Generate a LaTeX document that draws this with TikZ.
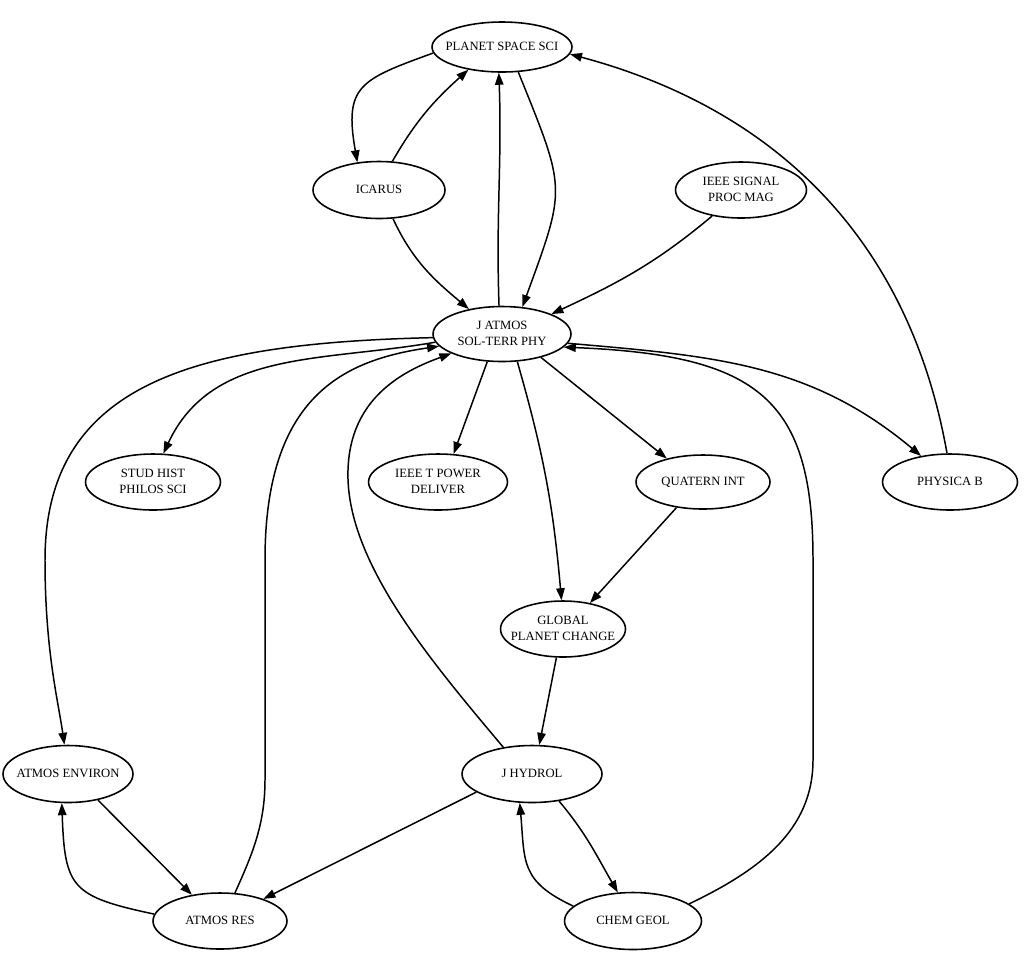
\documentclass[tikz,border=0pt]{standalone}
\usepackage{fontspec}
\setmainfont{Liberation Serif}
\usepackage{tikz}
\usetikzlibrary{shapes.geometric}
\usetikzlibrary{arrows.meta}
\tikzset{journal/.style={ellipse, draw=black, line width=0.9pt, inner sep=0pt, minimum width=2.7cm, minimum height=1.12cm, font=\fontsize{7.2}{9.1}\selectfont}}
\tikzset{cite/.style={line width=0.85pt, -{Triangle[length=0.24cm, width=0.17cm]}}}
\newcommand{\jname}[1]{\makebox[0pt]{\begin{tabular}{@{}c@{}}#1\end{tabular}}}

\begin{document}
\begin{tikzpicture}[x=0.02cm, y=-0.02cm]
    \useasboundingbox (0,0) rectangle (1024,965);
    \node [journal, minimum width=2.8cm, minimum height=1cm](planet) at (502,47){\jname{PLANET SPACE SCI}};
    \node [journal, minimum width=2.64cm, minimum height=1.14cm](icarus) at (379,190){\jname{ICARUS}};
    \node [journal, minimum width=2.62cm](signal) at (741,190){\jname{IEEE SIGNAL\\PROC MAG}};
    \node [journal, minimum width=2.76cm, minimum height=1.1cm](jatmos) at (502,334){\jname{J ATMOS\\SOL-TERR PHY}};
    \node [journal](stud) at (153,482){\jname{STUD HIST\\PHILOS SCI}};
    \node [journal, minimum width=2.78cm](power) at (438,482){\jname{IEEE T POWER\\DELIVER}};
    \node [journal, minimum width=2.68cm, minimum height=1.08cm](quatern) at (703,482){\jname{QUATERN INT}};
    \node [journal](physica) at (950,482){\jname{PHYSICA B}};
    \node [journal, minimum width=2.5cm](global) at (563,629){\jname{GLOBAL\\PLANET CHANGE}};
    \node [journal, minimum width=2.6cm, minimum height=1.14cm](environ) at (68,774){\jname{ATMOS ENVIRON}};
    \node [journal, minimum width=2.8cm, minimum height=1.14cm](hydrol) at (532,774){\jname{J HYDROL}};
    \node [journal, minimum width=2.68cm](atmosres) at (220,921){\jname{ATMOS RES}};
    \node [journal, minimum width=2.74cm, minimum height=1.14cm](chem) at (633,921){\jname{CHEM GEOL}};

    \draw[cite] (planet.185) to[out=200,in=100,looseness=1.5] (icarus.128);
    \draw[cite] (icarus.65) to[out=60,in=222] (planet.214);
    \draw[cite] (jatmos.96) to[out=92,in=272] (planet.263);
    \draw[cite] (planet.303) to[out=292,in=70,looseness=1.4] (jatmos.53);
    \draw[cite] (icarus.296) to[out=295,in=140] (jatmos.143);
    \draw[cite] (signal.222) to[out=220,in=25] (jatmos.22);
    \draw[cite] (physica.96) to[out=100,in=-15] (planet.354);
    % long loops round the middle
    \draw[cite] (jatmos.183) .. controls (200,343) and (45,380) .. (45,560) .. controls (45,650) and (58,700) .. (environ.97);
    \draw[cite] (jatmos.187) to[out=190,in=65] (stud.70);
    \draw[cite] (atmosres.62) .. controls (252,855) and (265,825) .. (265,780) -- (265,560) .. controls (265,395) and (345,360) .. (jatmos.191);
    \draw[cite] (hydrol.137) .. controls (430,660) and (345,560) .. (348,470) .. controls (350,400) and (400,372) .. (jatmos.201);
    \draw[cite] (chem.17) .. controls (760,870) and (813,830) .. (813,760) -- (813,560) .. controls (813,400) and (760,355) .. (jatmos.348);
    \draw[cite] (jatmos.242) -- (power.61);
    \draw[cite] (jatmos.299) to[out=-74,in=95] (global.93);
    \draw[cite] (jatmos.329) -- (quatern.147);
    \draw[cite] (jatmos.352) to[out=-5,in=140] (physica.138);
    \draw[cite] (quatern.224) -- (global.44);
    \draw[cite] (global.257) -- (hydrol.76);
    \draw[cite] (environ.319) -- (atmosres.137);
    \draw[cite] (atmosres.174) to[out=168,in=-88,looseness=1.5] (environ.258);
    \draw[cite] (hydrol.198) -- (atmosres.27);
    \draw[cite] (hydrol.315) to[out=-50,in=120] (chem.118);
    \draw[cite] (chem.166) to[out=155,in=-85,looseness=1.3] (hydrol.247);
\end{tikzpicture}
\end{document}
